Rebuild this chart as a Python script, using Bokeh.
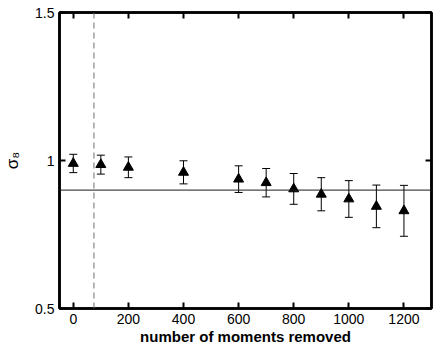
from bokeh.plotting import figure
from bokeh.models import (ColumnDataSource, Whisker, TeeHead, Span, LinearAxis,
                          FixedTicker, Range1d)
from bokeh.embed import file_html
from bokeh.resources import INLINE

# ---- data ----
moments_removed = [0, 100, 200, 400, 600, 700, 800, 900, 1000, 1100, 1200]
sigma8 = [0.990, 0.986, 0.977, 0.960, 0.937, 0.925, 0.904, 0.886, 0.870, 0.845, 0.830]
sigma8_err = [0.031, 0.032, 0.035, 0.039, 0.045, 0.048, 0.052, 0.056, 0.062, 0.072, 0.086]
reference_sigma8 = 0.9
cut_position = 75
x_ticks = [0, 200, 400, 600, 800, 1000, 1200]
y_ticks = [0.5, 1, 1.5]
y_tick_labels = {0.5: "0.5", 1: "1", 1.5: "1.5"}

FONT = "Liberation Sans"

src = ColumnDataSource(dict(
    x=moments_removed,
    y=sigma8,
    upper=[v + e for v, e in zip(sigma8, sigma8_err)],
    lower=[v - e for v, e in zip(sigma8, sigma8_err)],
))

p = figure(width=436, height=348, output_backend="svg", toolbar_location=None,
           x_range=Range1d(-50, 1300), y_range=Range1d(0.5, 1.5),
           min_border_left=58, min_border_right=5, min_border_top=12,
           min_border_bottom=40)
p.grid.visible = False
p.outline_line_color = "black"
p.outline_line_width = 2.5
p.background_fill_color = "white"
p.border_fill_color = "white"

# reference lines
p.add_layout(Span(location=reference_sigma8, dimension="width",
                  line_color="#1a1a1a", line_width=1))
p.add_layout(Span(location=cut_position, dimension="height",
                  line_color="#6e6e6e", line_width=1, line_dash="6 4"))

# error bars
w = Whisker(source=src, base="x", upper="upper", lower="lower",
            line_color="black", line_width=1,
            upper_head=TeeHead(size=8, line_color="black", line_width=1),
            lower_head=TeeHead(size=8, line_color="black", line_width=1))
p.add_layout(w)

p.scatter("x", "y", source=src, marker="triangle", size=10,
          fill_color="black", line_color="black")

def style_axis(ax):
    ax.axis_line_width = 2.5
    ax.axis_line_color = "black"
    ax.major_tick_line_width = 2
    ax.major_tick_line_color = "black"
    ax.major_tick_in = 6
    ax.major_tick_out = 0
    ax.minor_tick_line_color = None
    ax.major_label_text_font = FONT
    ax.major_label_text_font_size = "14px"
    ax.major_label_text_color = "black"
    ax.axis_label_text_font = FONT
    ax.axis_label_text_color = "black"

xa = p.xaxis[0]
xa.ticker = FixedTicker(ticks=x_ticks)
style_axis(xa)
xa.major_label_standoff = 5
xa.axis_label = "number of moments removed"
xa.axis_label_text_font_style = "bold"
xa.axis_label_text_font_size = "15px"
xa.axis_label_standoff = 1

ya = p.yaxis[0]
ya.ticker = FixedTicker(ticks=y_ticks)
ya.major_label_overrides = y_tick_labels
style_axis(ya)
ya.major_label_standoff = 5
ya.axis_label = "σ₈"
ya.axis_label_text_font_style = "normal"
ya.axis_label_text_font_size = "17px"
ya.axis_label_standoff = 10

# mirrored ticks on top and right (no labels)
top = LinearAxis(ticker=FixedTicker(ticks=x_ticks))
style_axis(top)
top.major_label_overrides = {t: "" for t in x_ticks}
top.major_label_standoff = 0
top.axis_label_standoff = 0
p.add_layout(top, "above")
right = LinearAxis(ticker=FixedTicker(ticks=y_ticks))
style_axis(right)
right.major_label_overrides = {t: "" for t in y_ticks}
right.major_label_standoff = 0
right.axis_label_standoff = 0
p.add_layout(right, "right")

open("out.html", "w").write(file_html(p, INLINE))
